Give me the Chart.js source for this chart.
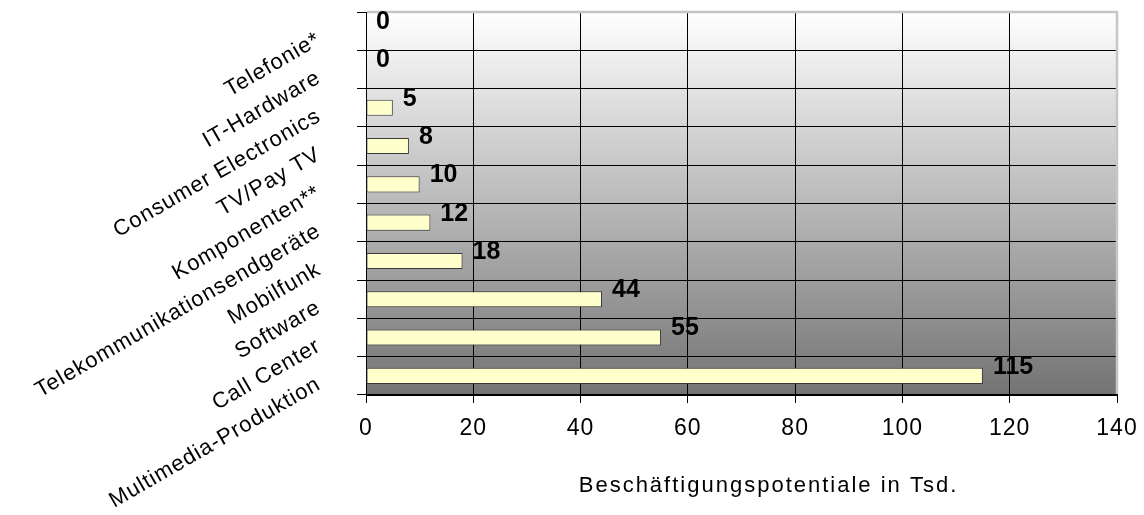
<!DOCTYPE html>
<html>
<head>
<meta charset="utf-8">
<script src="https://cdn.jsdelivr.net/npm/chart.js@4/dist/chart.umd.min.js"></script>
<style>
  html, body { margin: 0; padding: 0; background: #fff; }
  #wrap { width: 1144px; height: 515px; }
</style>
</head>
<body>
<div id="wrap"><canvas id="employmentChart" width="1144" height="515"></canvas></div>
<script>
const categories = [
  'Telefonie*',
  'IT-Hardware',
  'Consumer Electronics',
  'TV/Pay TV',
  'Komponenten**',
  'Telekommunikationsendgeräte',
  'Mobilfunk',
  'Software',
  'Call Center',
  'Multimedia-Produktion'
];
const values = [0, 0, 5, 8, 10, 12, 18, 44, 55, 115];
const xTicks = [0, 20, 40, 60, 80, 100, 120, 140];
const axisTitle = 'Beschäftigungspotentiale in Tsd.';

const FONT = '"Liberation Sans", Arial, sans-serif';
const SPACING = '1px';

// gradient plot area, grey frame, value labels and axis title
const plotDecor = {
  id: 'plotDecor',
  beforeUpdate(chart) {
    chart.ctx.letterSpacing = SPACING;
  },
  beforeDraw(chart) {
    const { ctx, chartArea: a } = chart;
    ctx.letterSpacing = SPACING;
    const g = ctx.createLinearGradient(0, a.top, 0, a.bottom);
    g.addColorStop(0, '#ffffff');
    g.addColorStop(1, '#737373');
    ctx.save();
    ctx.fillStyle = g;
    ctx.fillRect(a.left, a.top, a.right - a.left, a.bottom - a.top);
    ctx.restore();
  },
  beforeDatasetsDraw(chart) {
    const { ctx, chartArea: a } = chart;
    ctx.save();
    ctx.strokeStyle = '#c6c6c6';
    ctx.lineWidth = 2.5;
    ctx.beginPath();
    ctx.moveTo(a.left + 1, a.top);
    ctx.lineTo(a.right, a.top);
    ctx.lineTo(a.right, a.bottom - 1);
    ctx.stroke();
    ctx.restore();
  },
  afterDatasetsDraw(chart) {
    const { ctx } = chart;
    const meta = chart.getDatasetMeta(0);
    ctx.save();
    ctx.letterSpacing = '0px';
    ctx.font = 'bold 25px ' + FONT;
    ctx.fillStyle = '#000';
    ctx.textAlign = 'left';
    ctx.textBaseline = 'middle';
    meta.data.forEach((bar, i) => {
      ctx.fillText(String(values[i]), bar.x + 10, bar.y - 9);
    });
    ctx.restore();
  },
  afterDraw(chart) {
    const { ctx, chartArea: a } = chart;
    ctx.save();
    ctx.letterSpacing = '2px';
    ctx.font = '22px ' + FONT;
    ctx.fillStyle = '#000';
    ctx.textAlign = 'center';
    ctx.textBaseline = 'middle';
    ctx.fillText(axisTitle, (a.left + a.right) / 2 + 27, 486);
    ctx.restore();
  }
};

const ctx = document.getElementById('employmentChart').getContext('2d');
new Chart(ctx, {
  type: 'bar',
  data: {
    labels: categories,
    datasets: [{
      label: axisTitle,
      data: values,
      backgroundColor: '#ffffcc',
      borderColor: '#3a3a3a',
      borderWidth: 1,
      borderSkipped: false,
      barPercentage: 0.42,
      categoryPercentage: 1
    }]
  },
  options: {
    indexAxis: 'y',
    responsive: false,
    animation: false,
    layout: {
      padding: { top: 12, right: 27, bottom: 0, left: 0 }
    },
    plugins: {
      legend: { display: false },
      tooltip: { enabled: false }
    },
    scales: {
      x: {
        min: xTicks[0],
        max: xTicks[xTicks.length - 1],
        ticks: {
          stepSize: xTicks[1] - xTicks[0],
          color: '#000',
          padding: 12,
          maxRotation: 0,
          font: { size: 23, family: FONT }
        },
        grid: {
          color: '#000',
          lineWidth: 1,
          tickLength: 8
        },
        border: { display: true, color: '#000', width: 1 },
        afterFit(scale) {
          scale.height = 120;
          scale.paddingLeft = 0;
          scale.paddingRight = 0;
        }
      },
      y: {
        ticks: {
          color: '#000',
          minRotation: 30,
          maxRotation: 30,
          padding: 38,
          labelOffset: 7,
          font: { size: 22, family: FONT }
        },
        grid: {
          color: '#000',
          lineWidth: 1,
          offset: true,
          tickLength: 9
        },
        border: { display: true, color: '#000', width: 1 },
        afterFit(scale) {
          scale.width = 366;
          scale.paddingTop = 0;
          scale.paddingBottom = 0;
        }
      }
    }
  },
  plugins: [plotDecor]
});
</script>
</body>
</html>
